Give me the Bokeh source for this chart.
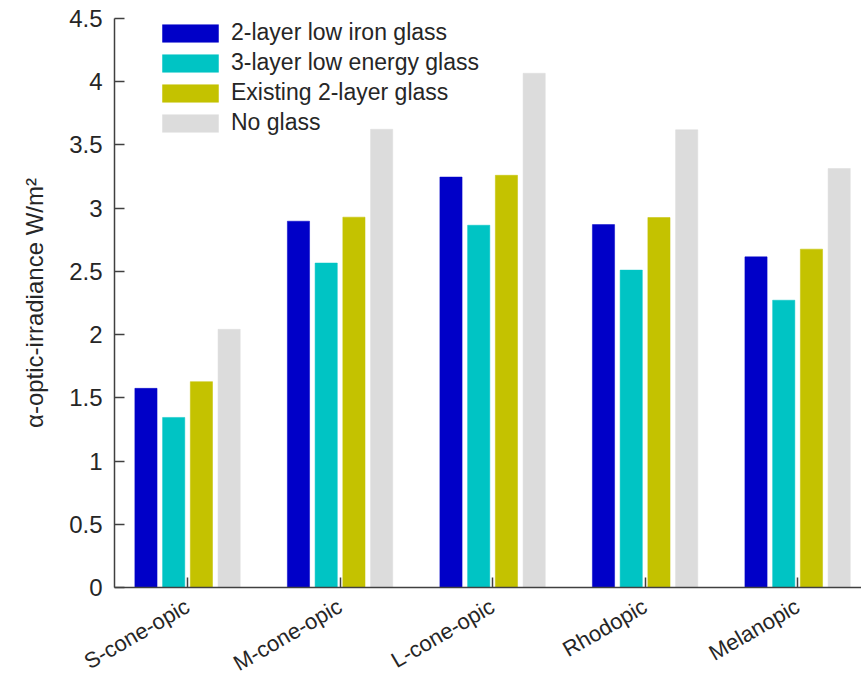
import math

from bokeh.embed import file_html
from bokeh.models import CustomJSTickFormatter, FixedTicker, Legend, LegendItem, Range1d
from bokeh.plotting import figure
from bokeh.resources import INLINE

# Photoreceptor channels on the x axis
categories = ["S-cone-opic", "M-cone-opic", "L-cone-opic", "Rhodopic", "Melanopic"]

# Glazing cases (legend order)
series_names = [
    "2-layer low iron glass",
    "3-layer low energy glass",
    "Existing 2-layer glass",
    "No glass",
]

# alpha-optic irradiance, W/m^2
low_iron_2layer = [1.575, 2.897, 3.246, 2.870, 2.615]
low_energy_3layer = [1.345, 2.566, 2.865, 2.510, 2.272]
existing_2layer = [1.628, 2.929, 3.260, 2.926, 2.676]
no_glass = [2.042, 3.624, 4.067, 3.620, 3.313]

y_ticks = [0, 0.5, 1, 1.5, 2, 2.5, 3, 3.5, 4, 4.5]

series_values = [low_iron_2layer, low_energy_3layer, existing_2layer, no_glass]
colors = ["#0000c8", "#00c4c4", "#c4c200", "#dcdcdc"]

FONT = "Liberation Sans"
TEXT = "#262626"
AXIS = "#404040"

p = figure(
    width=861,
    height=689,
    output_backend="svg",
    toolbar_location=None,
    x_range=Range1d(0.521, 5.419),
    y_range=Range1d(0, 4.5),
    min_border_left=114,
    min_border_right=0,
    min_border_top=18,
    min_border_bottom=101,
)
p.background_fill_color = "white"
p.border_fill_color = "white"
p.outline_line_color = None
p.xgrid.visible = False
p.ygrid.visible = False

# grouped bars: four bars per category, centred on the category position
n_series = len(series_values)
group_width = 4 / (n_series + 1.5)
pitch = group_width / n_series
bar_width = 0.8 * pitch
cat_pos = [i + 1 for i in range(len(categories))]

renderers = []
for k, (vals, col) in enumerate(zip(series_values, colors)):
    offset = (k - (n_series - 1) / 2) * pitch
    xs = [c + offset for c in cat_pos]
    r = p.vbar(x=xs, top=vals, width=bar_width, bottom=0,
               fill_color=col, line_color=col, line_width=0.5)
    renderers.append(r)

# x axis: category names, rotated
p.xaxis.ticker = FixedTicker(ticks=cat_pos)
p.xaxis.major_label_overrides = {c: name for c, name in zip(cat_pos, categories)}
p.xaxis.major_label_orientation = math.pi / 6
p.xaxis.major_label_standoff = 17
p.xaxis.major_label_text_font_size = "22px"

# y axis
p.yaxis.ticker = FixedTicker(ticks=y_ticks)
p.yaxis.formatter = CustomJSTickFormatter(code="return String(tick)")
p.yaxis.axis_label = "α-optic-irradiance W/m²"
p.yaxis.axis_label_text_font = FONT
p.yaxis.axis_label_text_font_size = "24px"
p.yaxis.axis_label_text_font_style = "normal"
p.yaxis.axis_label_text_color = TEXT
p.yaxis.axis_label_standoff = 18
p.yaxis.major_label_standoff = 12
p.yaxis.major_label_text_font_size = "24px"

for ax in (p.xaxis, p.yaxis):
    ax.axis_line_color = AXIS
    ax.axis_line_width = 1.5
    ax.major_tick_line_color = AXIS
    ax.major_tick_line_width = 1.5
    ax.major_tick_in = 10
    ax.major_tick_out = 0
    ax.minor_tick_line_color = None
    ax.major_label_text_font = FONT
    ax.major_label_text_color = TEXT

legend = Legend(
    items=[LegendItem(label=n, renderers=[r]) for n, r in zip(series_names, renderers)],
    location=(41, 451),
    glyph_width=70,
    glyph_height=22,
    label_height=22,
    label_standoff=6,
    spacing=3,
    padding=0,
    margin=0,
    border_line_color=None,
    background_fill_alpha=0,
    label_text_font=FONT,
    label_text_font_size="23px",
    label_text_color=TEXT,
)
p.add_layout(legend)

open("out.html", "w").write(file_html(p, INLINE))
